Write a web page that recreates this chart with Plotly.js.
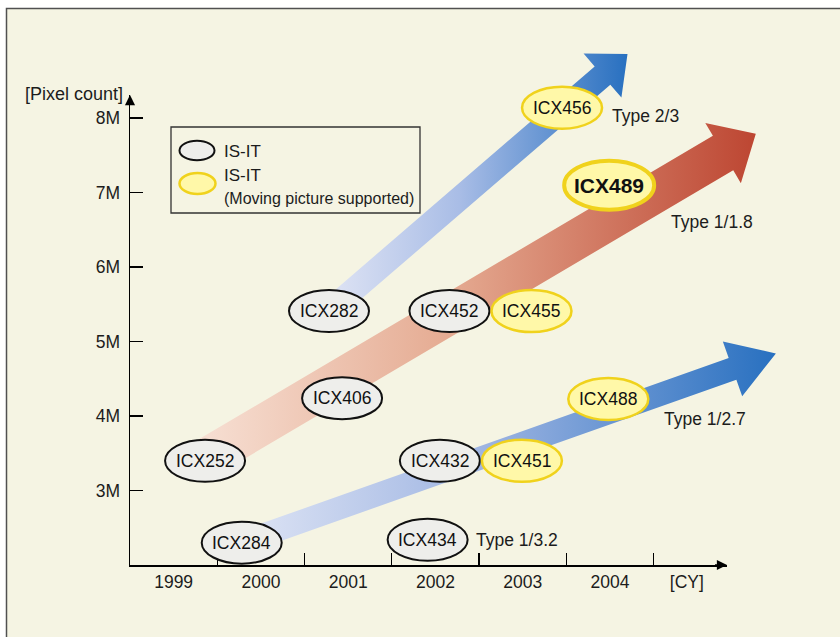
<!DOCTYPE html>
<html>
<head>
<meta charset="utf-8">
<script src="https://cdn.plot.ly/plotly-3.0.1.min.js"></script>
<style>html,body{margin:0;padding:0;background:#fff;}#chart{width:840px;height:637px;}</style>
</head>
<body>
<div id="chart"></div>
<script>
// ---------- DATA ----------
const yearCats = [1999, 2000, 2001, 2002, 2003, 2004];
const yearLabels = ['1999', '2000', '2001', '2002', '2003', '2004'];
const yearBoundaries = [1999.5, 2000.5, 2001.5, 2002.5, 2003.5, 2004.5];
const cyLabelPos = 2004.88;
const pixelTicks = [3, 4, 5, 6, 7, 8];
const pixelTickText = ['3M', '4M', '5M', '6M', '7M', '8M'];

const chipNames  = ['ICX284','ICX434','ICX252','ICX432','ICX451','ICX406','ICX282','ICX452','ICX455','ICX488','ICX456','ICX489'];
const chipYear   = [1999.78, 2001.91, 1999.36, 2002.05, 2002.99, 2000.93, 2000.78, 2002.16, 2003.10, 2003.98, 2003.45, 2003.99];
const chipPixels = [2.30, 2.34, 3.40, 3.40, 3.40, 4.24, 5.41, 5.41, 5.41, 4.23, 8.14, 7.10];
const chipMoving = [false, false, false, false, true, false, false, false, true, true, true, true];
const chipHighlight = [false, false, false, false, false, false, false, false, false, false, false, true];

const typeNames     = ['Type 2/3', 'Type 1/1.8', 'Type 1/2.7', 'Type 1/3.2'];
const typeLabelYear = [2004.00, 2004.68, 2004.60, 2002.44];
const typeLabelPix  = [8.03, 6.61, 3.96, 2.34];

const arrowStartYear = [2000.78, 1999.38, 1999.78];
const arrowStartPix  = [5.41, 3.44, 2.30];
const arrowEndYear   = [2004.20, 2005.67, 2005.90];
const arrowEndPix    = [8.86, 7.79, 4.84];

const legendLabels = ['IS-IT', 'IS-IT', '(Moving picture supported)'];

// ---------- LAYOUT GEOMETRY / STYLE ----------
const W = 840, H = 637;
const axL = 130, axR = 727, axB = 565, axT = 95;
const X0 = 1998.5, X1 = 2005.34, Y0 = 2, Y1 = 8.31;
const pxX = (axR - axL) / (X1 - X0);
const pxY = (axB - axT) / (Y1 - Y0);
const x2range = [X0 - axL / pxX, X0 + (W - axL) / pxX];
const y2range = [Y0 - (H - axB) / pxY, Y0 + axB / pxY];

const arrowStyle = [
  {shaft: 24, headL: 33, headW: 58, colors: [[0, '#e2e6f5'], [0.45, '#a9bde6'], [1, '#2870c0']]},
  {shaft: 40, headL: 38, headW: 70, colors: [[0, '#f7e0d4'], [0.45, '#e5ab92'], [1, '#bd4632']]},
  {shaft: 23, headL: 46, headW: 58, colors: [[0, '#dfe5f5'], [0.45, '#9fb5e2'], [1, '#2870c0']]}
];

const FONT = 'Liberation Sans, Arial, Helvetica, sans-serif';
const TXT = '#1c1c1c';
const BG = '#f5f4e3';
const FS = 17.5;

function arrowPolygon(i) {
  const st = arrowStyle[i];
  const tx = arrowStartYear[i], ty = arrowStartPix[i];
  const dx = (arrowEndYear[i] - tx) * pxX, dy = (arrowEndPix[i] - ty) * pxY;
  const L = Math.hypot(dx, dy);
  const ux = dx / L, uy = dy / L, nx = -uy, ny = ux;
  const b = L - st.headL;
  const pts = [
    [nx * st.shaft / 2, ny * st.shaft / 2],
    [ux * b + nx * st.shaft / 2, uy * b + ny * st.shaft / 2],
    [ux * b + nx * st.headW / 2, uy * b + ny * st.headW / 2],
    [dx, dy],
    [ux * b - nx * st.headW / 2, uy * b - ny * st.headW / 2],
    [ux * b - nx * st.shaft / 2, uy * b - ny * st.shaft / 2],
    [-nx * st.shaft / 2, -ny * st.shaft / 2]
  ];
  return {
    x: pts.map(p => tx + p[0] / pxX).concat([tx + pts[0][0] / pxX]),
    y: pts.map(p => ty + p[1] / pxY).concat([ty + pts[0][1] / pxY])
  };
}

const traces = [];
traces.push({type: 'scatter', x: [], y: [], xaxis: 'x', yaxis: 'y', hoverinfo: 'skip', showlegend: false});
for (let i = 0; i < arrowStartYear.length; i++) {
  const p = arrowPolygon(i);
  traces.push({
    type: 'scatter', mode: 'lines', x: p.x, y: p.y, xaxis: 'x2', yaxis: 'y2',
    fill: 'toself', line: {width: 0, color: 'rgba(0,0,0,0)'},
    fillcolor: arrowStyle[i].colors[1][1],
    fillgradient: {type: 'horizontal', colorscale: arrowStyle[i].colors},
    hoverinfo: 'skip', showlegend: false
  });
}

const shapes = [];
shapes.push({type: 'rect', xref: 'paper', yref: 'paper', x0: 6.5 / W, x1: 1.2, y0: -0.2, y1: 1 - 8.5 / H,
  fillcolor: BG, line: {color: '#505050', width: 1.5}, layer: 'below'});

for (let i = 0; i < chipNames.length; i++) {
  const rx = chipHighlight[i] ? 45 : 40, ry = chipHighlight[i] ? 24.5 : 21;
  shapes.push({
    type: 'circle', xref: 'x2', yref: 'y2', layer: 'above',
    xsizemode: 'pixel', ysizemode: 'pixel', xanchor: chipYear[i], yanchor: chipPixels[i],
    x0: -rx, x1: rx, y0: -ry, y1: ry,
    fillcolor: chipMoving[i] ? '#fff8a8' : '#eeeeeb',
    line: {color: chipMoving[i] ? '#f0d21c' : '#111111', width: chipHighlight[i] ? 4 : (chipMoving[i] ? 2.5 : 2)}
  });
}

shapes.push({type: 'rect', xref: 'paper', yref: 'paper', x0: 171 / W, x1: 420 / W, y0: 1 - 213 / H, y1: 1 - 127 / H,
  line: {color: '#333', width: 1.3}, fillcolor: 'rgba(0,0,0,0)', layer: 'above'});
shapes.push({type: 'circle', xref: 'paper', yref: 'paper', xsizemode: 'pixel', ysizemode: 'pixel',
  xanchor: 197 / W, yanchor: 1 - 150.5 / H, x0: -17.5, x1: 17.5, y0: -9.8, y1: 9.8,
  fillcolor: '#eeeeeb', line: {color: '#111', width: 2}, layer: 'above'});
shapes.push({type: 'circle', xref: 'paper', yref: 'paper', xsizemode: 'pixel', ysizemode: 'pixel',
  xanchor: 197.5 / W, yanchor: 1 - 183.5 / H, x0: -18, x1: 18, y0: -10.5, y1: 10.5,
  fillcolor: '#fff8a8', line: {color: '#f0d21c', width: 2.5}, layer: 'above'});

const annotations = [];
for (let i = 0; i < chipNames.length; i++) {
  annotations.push({
    xref: 'x2', yref: 'y2', x: chipYear[i], y: chipPixels[i], text: chipHighlight[i] ? '<b>' + chipNames[i] + '</b>' : chipNames[i],
    showarrow: false, xanchor: 'center', yanchor: 'middle',
    font: {family: FONT, size: chipHighlight[i] ? 21 : FS, color: '#111'}
  });
}
for (let i = 0; i < typeNames.length; i++) {
  annotations.push({
    xref: 'x2', yref: 'y2', x: typeLabelYear[i], y: typeLabelPix[i], text: typeNames[i],
    showarrow: false, xanchor: 'left', yanchor: 'middle', font: {family: FONT, size: FS, color: TXT}
  });
}
const legendY = [151, 175, 198];
const legendSize = [17, 17, 16];
for (let i = 0; i < legendLabels.length; i++) {
  annotations.push({xref: 'paper', yref: 'paper', x: 222 / W, y: 1 - legendY[i] / H, text: legendLabels[i],
    showarrow: false, xanchor: 'left', yanchor: 'middle', font: {family: FONT, size: legendSize[i], color: TXT}});
}
annotations.push({xref: 'paper', yref: 'paper', x: 125 / W, y: 1 - 94 / H, text: '[Pixel count]',
  showarrow: false, xanchor: 'right', yanchor: 'middle', font: {family: FONT, size: 18, color: TXT}});
annotations.push({xref: 'x', yref: 'y', x: X1, y: Y0, ax: -16, ay: 0, text: ' ', showarrow: true,
  arrowhead: 2, arrowsize: 1.35, arrowwidth: 1.5, arrowcolor: '#000'});
annotations.push({xref: 'x', yref: 'y', x: X0, y: Y1, ax: 0, ay: 16, text: ' ', showarrow: true,
  arrowhead: 2, arrowsize: 1.35, arrowwidth: 1.5, arrowcolor: '#000'});

const layout = {
  width: W, height: H,
  margin: {l: 0, r: 0, t: 0, b: 0, pad: 0},
  paper_bgcolor: '#ffffff', plot_bgcolor: 'rgba(0,0,0,0)',
  showlegend: false,
  font: {family: FONT, size: FS, color: TXT},
  xaxis: {
    domain: [axL / W, axR / W], range: [X0, X1], anchor: 'y',
    tickmode: 'array', tickvals: yearCats.concat([cyLabelPos]), ticktext: yearLabels.concat(['[CY]']),
    ticks: '', showgrid: false, zeroline: false, showline: true, linecolor: '#000', linewidth: 1.5,
    tickfont: {family: FONT, size: FS, color: TXT}, ticklabelstandoff: 0,
    minor: {tickmode: 'array', tickvals: yearBoundaries, ticks: 'inside', ticklen: 12, tickwidth: 1.3, tickcolor: '#000', showgrid: false},
    fixedrange: true
  },
  yaxis: {
    domain: [1 - axB / H, 1 - axT / H], range: [Y0, Y1], anchor: 'x',
    tickmode: 'array', tickvals: pixelTicks, ticktext: pixelTickText,
    ticks: 'inside', ticklen: 13, tickwidth: 1.3, tickcolor: '#000',
    showgrid: false, zeroline: false, showline: true, linecolor: '#000', linewidth: 1.5,
    tickfont: {family: FONT, size: FS, color: TXT}, ticklabelstandoff: 5,
    fixedrange: true
  },
  xaxis2: {domain: [0, 1], range: x2range, anchor: 'y2', visible: false, fixedrange: true},
  yaxis2: {domain: [0, 1], range: y2range, anchor: 'x2', visible: false, fixedrange: true},
  shapes: shapes,
  annotations: annotations
};

Plotly.newPlot('chart', traces, layout, {displayModeBar: false, staticPlot: true});
</script>
</body>
</html>
